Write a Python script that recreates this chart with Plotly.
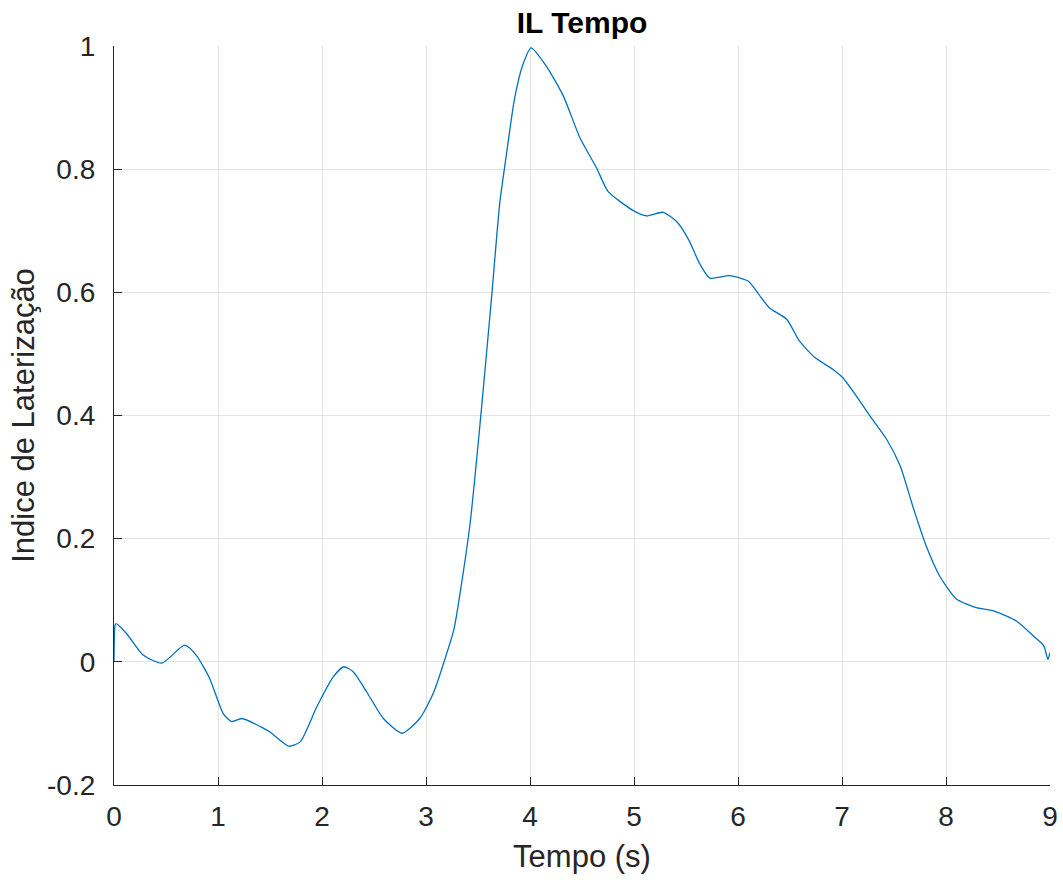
import plotly.graph_objects as go

# Time (s) and lateralization index
tempo = [0.0, 0.01, 0.02, 0.12, 0.28, 0.46, 0.68, 0.79, 0.92, 1.05, 1.13, 1.23, 1.44, 1.50,
         1.68, 1.79, 1.95, 2.11, 2.21, 2.30, 2.43, 2.59, 2.77, 2.94, 3.07, 3.20, 3.27,
         3.42, 3.53, 3.63, 3.71, 3.77, 3.85, 3.93, 4.01, 4.15, 4.32, 4.48, 4.64, 4.75,
         4.99, 5.12, 5.28, 5.41, 5.53, 5.63, 5.73, 5.92, 6.10, 6.19, 6.30, 6.47, 6.59,
         6.74, 6.91, 7.01, 7.14, 7.27, 7.43, 7.56, 7.68, 7.81, 7.94, 8.10, 8.29, 8.45,
         8.68, 8.84, 8.94, 8.98, 9.0]
indice = [0.0, 0.059, 0.062, 0.046, 0.011, -0.002, 0.027, 0.011, -0.027, -0.084, -0.097,
          -0.092, -0.108, -0.114, -0.137, -0.130, -0.073, -0.024, -0.008, -0.016, -0.049,
          -0.092, -0.116, -0.092, -0.051, 0.014, 0.054, 0.219, 0.405, 0.591, 0.746, 0.820,
          0.913, 0.969, 0.997, 0.969, 0.919, 0.851, 0.802, 0.764, 0.733, 0.724, 0.730,
          0.715, 0.684, 0.647, 0.623, 0.627, 0.618, 0.599, 0.575, 0.556, 0.521, 0.494,
          0.475, 0.461, 0.431, 0.399, 0.361, 0.318, 0.253, 0.188, 0.139, 0.102, 0.088,
          0.083, 0.066, 0.042, 0.026, 0.004, 0.015]

x_ticks = [0, 1, 2, 3, 4, 5, 6, 7, 8, 9]
x_ticklabels = ["0", "1", "2", "3", "4", "5", "6", "7", "8", "9"]
y_ticks = [-0.2, 0, 0.2, 0.4, 0.6, 0.8, 1]
y_ticklabels = ["-0.2", "0", "0.2", "0.4", "0.6", "0.8", "1"]

axis_color = "#262626"
grid_color = "#e3e3e3"
font_family = "Liberation Sans, Arial, Helvetica, sans-serif"

fig = go.Figure()
fig.add_trace(go.Scatter(
    x=tempo, y=indice, mode="lines",
    line=dict(color="#0072BD", width=1.3, shape="spline", smoothing=0.6),
    showlegend=False,
))

fig.update_layout(
    width=1063, height=880,
    margin=dict(l=114, r=13, t=46, b=95),
    paper_bgcolor="white", plot_bgcolor="white",
    font=dict(family=font_family, color=axis_color, size=28),
    title=dict(text="<b>IL Tempo</b>", x=0.5, xanchor="center", xref="paper",
               y=1, yref="container", yanchor="top", pad=dict(t=12),
               font=dict(size=30, color="black", family=font_family)),
)

fig.update_xaxes(
    range=[0, 9], tickvals=x_ticks, ticktext=x_ticklabels,
    showline=True, linecolor=axis_color, linewidth=1.3, mirror=False,
    ticks="inside", ticklen=8, tickcolor=axis_color, tickwidth=1,
    showgrid=True, gridcolor=grid_color, gridwidth=1, zeroline=False,
    tickfont=dict(size=28, color=axis_color), ticklabelstandoff=6,
    title=dict(text="Tempo (s)", font=dict(size=31, color=axis_color), standoff=14),
    automargin=False,
)
fig.update_yaxes(
    range=[-0.2, 1], tickvals=y_ticks, ticktext=y_ticklabels,
    showline=True, linecolor=axis_color, linewidth=1.3, mirror=False,
    ticks="inside", ticklen=8, tickcolor=axis_color, tickwidth=1,
    showgrid=True, gridcolor=grid_color, gridwidth=1, zeroline=False,
    tickfont=dict(size=28, color=axis_color), ticklabelstandoff=12,
    title=dict(text="Indice de Laterização", font=dict(size=31, color=axis_color), standoff=3),
    automargin=False,
)

fig.write_html("out.html")
